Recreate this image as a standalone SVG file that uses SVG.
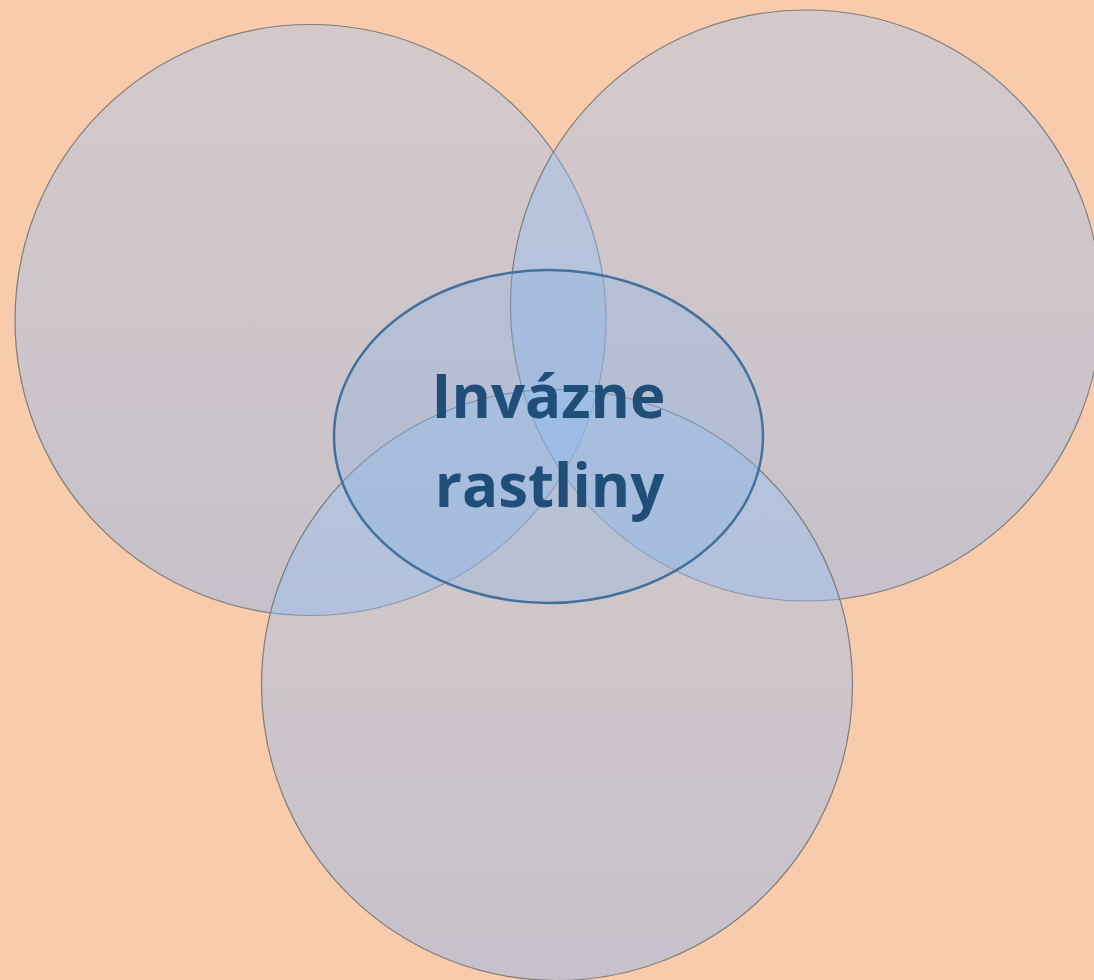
<svg xmlns="http://www.w3.org/2000/svg" width="1094" height="980" viewBox="0 0 1094 980">
<defs>
<linearGradient id="cg" x1="0" y1="0" x2="0" y2="1">
<stop offset="0" stop-color="#9BC6FA" stop-opacity="0.38"/>
<stop offset="1" stop-color="#86B4EF" stop-opacity="0.44"/>
</linearGradient>
<style>
.c{fill:url(#cg);stroke:#6F6F6F;stroke-width:1.2;stroke-opacity:0.85}
.e{fill:#8DB4E2;fill-opacity:0.36;stroke:#41719C;stroke-width:2.5}
.t{font-family:"Open Sans","Liberation Sans",sans-serif;font-weight:bold;font-size:60px;fill:#1F4E79;text-anchor:middle}
</style>
</defs>
<rect width="1094" height="980" fill="#F8CBAD"/>
<g id="circle-left"><circle class="c" cx="310.5" cy="320" r="295.5"/></g>
<g id="circle-right"><circle class="c" cx="806" cy="305.5" r="295.5"/></g>
<g id="circle-bottom"><circle class="c" cx="557" cy="685" r="295.5"/></g>
<g id="center">
<ellipse class="e" cx="548.5" cy="436.5" rx="214.5" ry="166.5"/>
<text class="t" x="548.5" y="418">Invázne</text>
<text class="t" x="549.5" y="507">rastliny</text>
</g>
<g id="connectors"/>
</svg>
